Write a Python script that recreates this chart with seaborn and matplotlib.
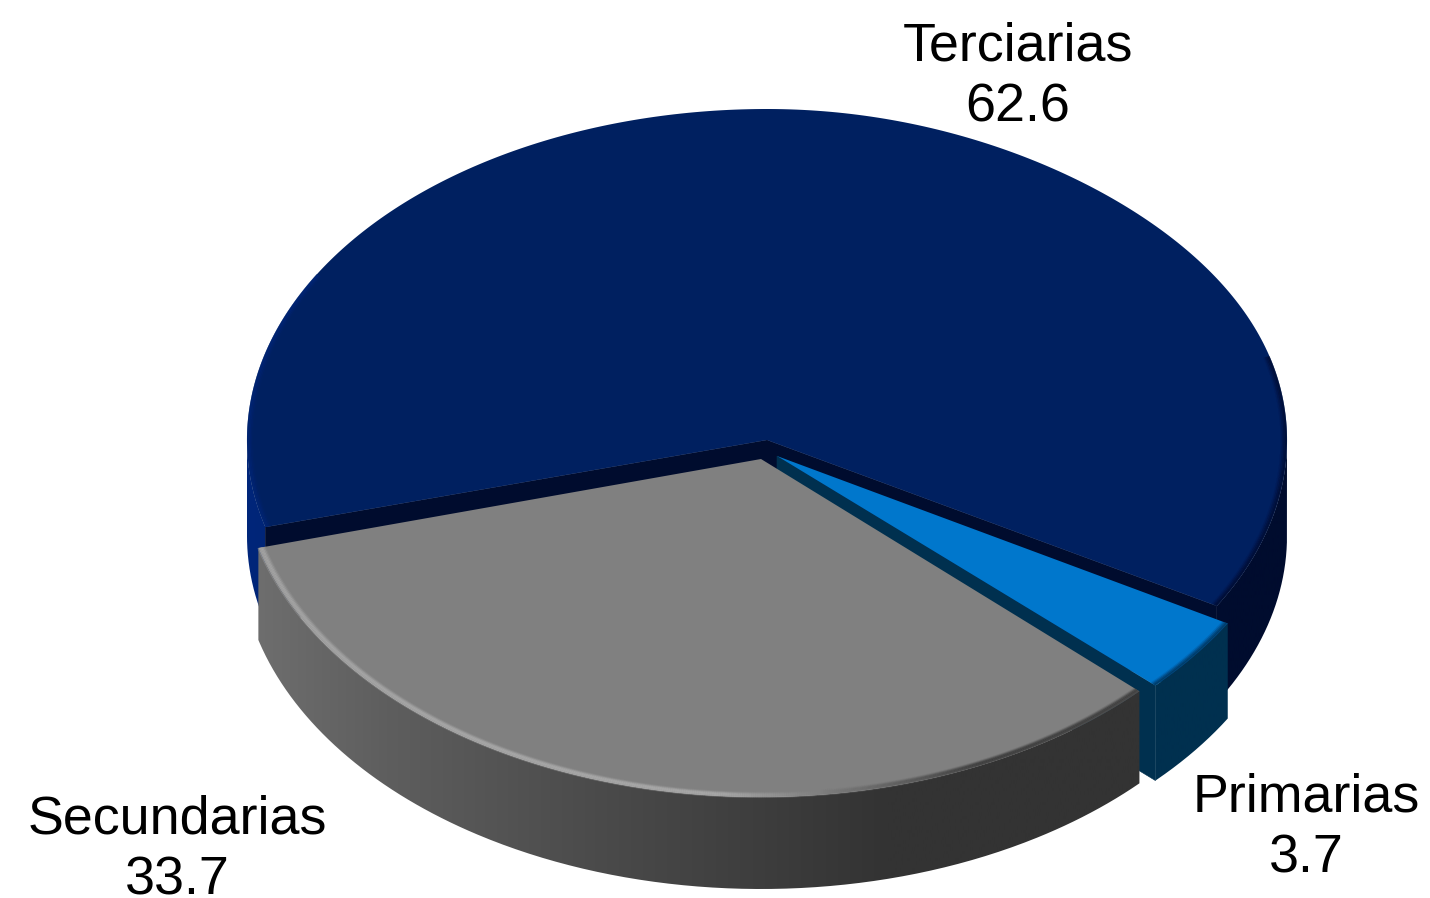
import numpy as np
import pandas as pd
import matplotlib
matplotlib.use("Agg")
import matplotlib.pyplot as plt
import seaborn as sns
from matplotlib.collections import LineCollection
from matplotlib.colors import LinearSegmentedColormap, to_rgb
from matplotlib.patches import PathPatch, Polygon
from matplotlib.path import Path

categories = ["Terciarias", "Secundarias", "Primarias"]
values = [62.6, 33.7, 3.7]

sns.set_theme(style="white")
plt.rcParams["font.family"] = ["Liberation Sans", "DejaVu Sans"]

df = pd.DataFrame({"categoria": categories, "valor": values})
sweep = df["valor"] / df["valor"].sum() * 360
df["a1"] = -30.1 + np.r_[0, np.cumsum(sweep)[:-1]]
df["a2"] = df["a1"] + sweep

# layout of each slice: apex, radii, thickness, and face colours
geom = {
    "Terciarias": dict(c=(767, 440), rx=520, ry=331, d=96, sag=6, top="#002060", wall="#000c2e",
                       side=[(0, "#00267a"), (0.1, "#00226a"), (0.9, "#000c2e"), (1, "#000c2e")]),
    "Secundarias": dict(c=(761, 459), rx=521, ry=338, d=92, sag=0, top="#808080", wall=None,
                        side=[(0, "#707070"), (0.14, "#5e5e5e"), (0.34, "#4b4b4b"),
                              (0.55, "#393939"), (0.62, "#333333"), (1, "#333333")]),
    "Primarias": dict(c=(777, 456), rx=521, ry=334, d=95, sag=0, top="#0077cc", wall="#00304f",
                      side=[(0, "#00304f"), (1, "#00304f")]),
}
label_pos = {"Terciarias": (1018, 77), "Secundarias": (177, 850), "Primarias": (1306, 828)}
order = ["Terciarias", "Primarias", "Secundarias"]

fig = plt.figure(figsize=(14.30, 8.98), dpi=100, facecolor="white")
ax = fig.add_axes([0, 0, 1, 1])
ax.set_axis_off()


def arc(g, a1, a2, scale=1.0, dy=0, n=300):
    deg = np.linspace(a1, a2, n)
    t = np.radians(deg)
    # the back right quarter of the rim sits slightly lower in the reference
    sag = g["sag"] * np.sin(2 * t) ** 2 * ((deg % 360) < 90)
    return np.c_[g["c"][0] + scale * g["rx"] * np.cos(t),
                 g["c"][1] - scale * g["ry"] * np.sin(t) + dy + sag]


def front_ranges(a1, a2):
    out = []
    for k in (-1, 0, 1):
        lo, hi = max(a1, 180 + 360 * k), min(a2, 360 + 360 * k)
        if hi > lo:
            out.append((lo, hi))
    return out


def draw_side(g, a1, a2, z):
    cmap = LinearSegmentedColormap.from_list("side", g["side"])
    x0, x1 = g["c"][0] - g["rx"], g["c"][0] + g["rx"]
    grad = np.linspace(0, 1, 512)[None, :]
    for lo, hi in front_ranges(a1, a2):
        top = arc(g, lo, hi)
        bot = arc(g, lo, hi, dy=g["d"])[::-1]
        verts = np.r_[top, bot, top[:1]]
        im = ax.imshow(grad, cmap=cmap, vmin=0, vmax=1, aspect="auto",
                       extent=(x0, x1, 898, 0), interpolation="bilinear", zorder=z)
        im.set_clip_path(PathPatch(Path(verts), transform=ax.transData))


def draw_rim(g, a1, a2, colour_at, widths, z):
    pts = arc(g, a1, a2, n=500)
    mid = (pts[:-1] + pts[1:]) / 2
    for inset, alpha, lw in widths:
        s = 1 - inset / g["rx"]
        p = arc(g, a1, a2, scale=s, n=500)
        segs = np.stack([p[:-1], p[1:]], axis=1)
        cols = [(*colour_at(x), alpha) for x in mid[:, 0]]
        ax.add_collection(LineCollection(segs, colors=cols, linewidths=lw, zorder=z, capstyle="butt"))


def mix(c1, c2, t):
    t = float(np.clip(t, 0, 1))
    a, b = np.array(to_rgb(c1)), np.array(to_rgb(c2))
    return tuple(a + (b - a) * t)


rim_soft = [(1, 0.8, 1.5), (2.5, 0.55, 1.5), (4, 0.3, 1.5), (5.5, 0.12, 1.5)]
rim_line = [(0.0, 0.35, 1.5), (1.3, 0.45, 1.5), (2.6, 0.55, 1.5), (3.9, 0.55, 1.5),
            (5.2, 0.35, 1.5), (6.5, 0.15, 1.5)]

for i, name in enumerate(order):
    row = df.set_index("categoria").loc[name]
    g = geom[name]
    z = 2 + i * 5
    a1, a2 = row["a1"], row["a2"]
    cx, cy = g["c"]
    draw_side(g, a1, a2, z)
    if name != "Secundarias":
        walls = [a1, a2] if name == "Terciarias" else [a1]
        for a in walls:
            e = arc(g, a, a, n=1)[0]
            ax.add_patch(Polygon([(cx, cy), e, (e[0], e[1] + g["d"]), (cx, cy + g["d"])],
                                 closed=True, facecolor=g["wall"], edgecolor=g["wall"],
                                 linewidth=0.4, zorder=z + 1))
    face = np.r_[[[cx, cy]], arc(g, a1, a2), [[cx, cy]]]
    ax.add_patch(Polygon(face, closed=True, facecolor=g["top"], edgecolor="none", zorder=z + 2))
    if name == "Secundarias":
        draw_rim(g, a1, a2, lambda x: mix("#b0b0b0", "#333333", (x - 720) / 260), rim_line, z + 3)
    elif name == "Terciarias":
        draw_rim(g, a1, a1 + 45, lambda x: mix("#000c2e", "#000c2e", 0), rim_soft, z + 3)
        draw_rim(g, 150, a2, lambda x: mix("#00267a", "#00267a", 0), rim_soft, z + 3)
    else:
        draw_rim(g, a1, a2, lambda x: mix("#00304f", "#00304f", 0), rim_soft, z + 3)

for cat, val in zip(categories, values):
    x, y = label_pos[cat]
    ax.text(x, y, f"{cat}\n{val}", ha="center", va="center", ma="center",
            fontsize=38.8, color="black", linespacing=1.27, zorder=40)

ax.set_xlim(0, 1430)
ax.set_ylim(898, 0)
fig.savefig("out.png", dpi=100, facecolor="white")
